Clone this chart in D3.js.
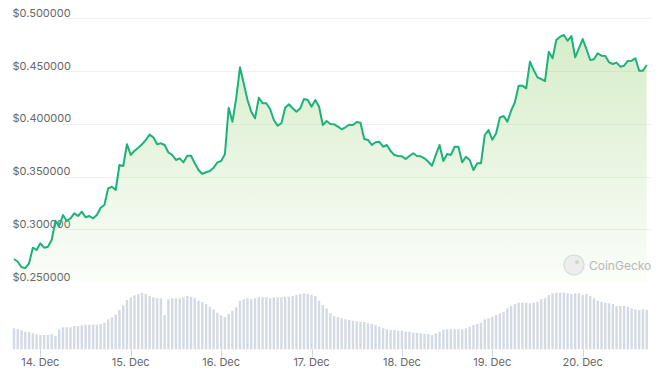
<!DOCTYPE html>
<html>
<head>
<meta charset="utf-8">
<script src="https://cdn.jsdelivr.net/npm/d3@7"></script>
<style>
  html, body { margin: 0; padding: 0; background: #fff; }
  svg { display: block; }
</style>
</head>
<body>
<svg id="chart" width="661" height="381"></svg>
<script>
// ---- data (hourly, starting 13 Dec 17:00) ----
const startTime = "2023-12-13T17:00:00";
const prices = [
  0.2720,0.2694,0.2641,0.2634,0.2679,0.2827,0.2805,0.2868,0.2827,0.2836,
  0.2900,0.3082,0.3032,0.3136,0.3079,0.3105,0.3152,0.3127,0.3168,0.3115,
  0.3127,0.3105,0.3136,0.3205,0.3231,0.3389,0.3404,0.3373,0.3610,0.3600,
  0.3806,0.3705,0.3745,0.3774,0.3806,0.3847,0.3897,0.3872,0.3806,0.3815,
  0.3799,0.3728,0.3705,0.3657,0.3673,0.3635,0.3698,0.3698,0.3626,0.3562,
  0.3525,0.3541,0.3553,0.3584,0.3635,0.3648,0.3711,0.4152,0.4020,0.4241,
  0.4535,0.4384,0.4225,0.4115,0.4052,0.4247,0.4194,0.4194,0.4140,0.4036,
  0.3982,0.4005,0.4152,0.4185,0.4147,0.4115,0.4147,0.4235,0.4225,0.4162,
  0.4225,0.4162,0.3989,0.4026,0.3998,0.3995,0.3973,0.3948,0.3967,0.3991,
  0.3989,0.4017,0.4010,0.3856,0.3847,0.3799,0.3825,0.3830,0.3783,0.3799,
  0.3742,0.3705,0.3695,0.3692,0.3667,0.3695,0.3721,0.3695,0.3692,0.3673,
  0.3641,0.3603,0.3705,0.3799,0.3648,0.3714,0.3705,0.3783,0.3783,0.3635,
  0.3688,0.3657,0.3562,0.3626,0.3626,0.3894,0.3941,0.3849,0.3908,0.4058,
  0.4074,0.4020,0.4124,0.4204,0.4361,0.4361,0.4336,0.4588,0.4509,0.4440,
  0.4424,0.4405,0.4683,0.4620,0.4794,0.4825,0.4841,0.4787,0.4831,0.4630,
  0.4715,0.4803,0.4708,0.4604,0.4611,0.4668,0.4645,0.4642,0.4582,0.4566,
  0.4579,0.4541,0.4550,0.4595,0.4598,0.4620,0.4503,0.4503,0.4557
];
const volumes = [ // relative hourly volume
  21.0,20.0,19.3,17.6,17.3,16.0,15.0,14.3,14.3,14.3,15.3,13.3,
  20.0,22.0,22.0,22.0,23.3,23.3,24.0,24.6,24.6,24.6,24.6,25.3,26.6,
  30.0,32.0,34.6,39.3,44.0,49.3,52.0,54.0,55.3,56.6,
  55.3,53.3,52.0,51.0,51.0,
  34.3,
  50.0,51.0,51.0,51.0,52.0,53.3,52.6,51.0,
  48.6,47.3,45.3,42.6,40.0,36.6,34.0,32.0,35.3,38.6,42.0,48.6,50.0,
  51.0,50.0,51.0,52.0,52.0,52.0,51.0,52.0,52.0,52.0,52.6,52.6,53.3,54.3,55.3,56.0,55.3,54.3,53.3,48.6,44.3,41.0,36.0,
  33.3,32.0,31.0,30.0,29.3,28.6,28.0,27.3,27.3,26.0,25.3,24.3,22.6,21.0,20.0,19.3,19.3,18.6,18.6,17.6,17.6,16.6,16.6,16.0,15.3,15.3,14.3,
  16.0,17.6,19.3,20.0,20.0,20.0,20.0,20.0,21.0,22.6,24.3,25.3,26.6,
  30.0,31.0,32.6,34.3,36.0,37.6,41.0,43.3,45.3,46.6,46.6,46.6,46.0,46.6,47.6,50.0,51.0,
  54.3,56.0,56.6,56.6,56.6,56.0,55.3,56.0,56.0,54.3,55.3,53.3,51.0,48.6,47.6,46.6,46.0,45.3,43.3,43.3,43.3,42.6,41.0,40.0,39.3,40.0,39.3
];
const yTicks = [0.25, 0.30, 0.35, 0.40, 0.45, 0.50];
const xTickDays = ["2023-12-14","2023-12-15","2023-12-16","2023-12-17","2023-12-18","2023-12-19","2023-12-20"];

// ---- build ----
const t0 = new Date(startTime).getTime();
const HOUR = 3600 * 1000;
const data = prices.map((p, i) => ({ t: new Date(t0 + i * HOUR), p, v: volumes[i] }));

const svg = d3.select("#chart");
const x = d3.scaleTime()
  .domain([data[0].t, data[data.length - 1].t])
  .range([14, 646.7]);
const y = d3.scaleLinear().domain([0.25, 0.5]).range([282.2, 18.2]);
const yv = d3.scaleLinear().domain([0, 69.3]).range([349.3, 280]);

const font = "Inter, 'Noto Sans', sans-serif";

// gradient
const defs = svg.append("defs");
const grad = defs.append("linearGradient").attr("id", "areaGrad")
  .attr("x1", 0).attr("y1", 0).attr("x2", 0).attr("y2", 1)
  .attr("gradientUnits", "userSpaceOnUse")
  .attr("x1", 0).attr("y1", y(0.5)).attr("x2", 0).attr("y2", y(0.25));
grad.append("stop").attr("offset", "0%").attr("stop-color", "#8fcd6a").attr("stop-opacity", 0.38);
grad.append("stop").attr("offset", "100%").attr("stop-color", "#8fcd6a").attr("stop-opacity", 0.04);

// gridlines
svg.append("g").selectAll("line").data(yTicks.slice(1)).join("line")
  .attr("x1", 63).attr("x2", 651)
  .attr("y1", d => Math.round(y(d)) + 0.5).attr("y2", d => Math.round(y(d)) + 0.5)
  .attr("stroke", "#f0f0f0").attr("stroke-width", 1);

// y labels
svg.append("g").selectAll("text").data(yTicks).join("text")
  .attr("x", 12.5).attr("y", d => y(d) - 1.5)
  .attr("font-family", font).attr("font-size", 11).attr("fill", "#666")
  .text(d => "$" + d.toFixed(6));

// volume bars
const bw = 2.4;
svg.append("g").selectAll("rect").data(data).join("rect")
  .attr("x", d => x(d.t) - bw / 2)
  .attr("y", d => yv(d.v))
  .attr("width", bw)
  .attr("height", d => yv(0) - yv(d.v))
  .attr("fill", "#d4dae3");

// area + line
const area = d3.area().x(d => x(d.t)).y0(y(0.25)).y1(d => y(d.p));
svg.append("path").datum(data).attr("d", area).attr("fill", "url(#areaGrad)");
const line = d3.line().x(d => x(d.t)).y(d => y(d.p));
svg.append("path").datum(data).attr("d", line)
  .attr("fill", "none").attr("stroke", "#1cb27a").attr("stroke-width", 2)
  .attr("stroke-linejoin", "round");

// x axis ticks and labels
const fmt = d3.timeFormat("%-d. %b");
const xt = xTickDays.map(s => new Date(s + "T00:00:00"));
svg.append("g").selectAll("line").data(xt).join("line")
  .attr("x1", d => Math.round(x(d)) + 0.5).attr("x2", d => Math.round(x(d)) + 0.5)
  .attr("y1", 349.5).attr("y2", 357)
  .attr("stroke", "#ccd6eb").attr("stroke-width", 1);
svg.append("g").selectAll("text").data(xt).join("text")
  .attr("x", d => x(d)).attr("y", 365.5)
  .attr("text-anchor", "middle")
  .attr("font-family", font).attr("font-size", 11).attr("fill", "#666")
  .text(d => fmt(d));

// watermark
const wm = svg.append("g").attr("opacity", 0.9);
wm.append("circle").attr("cx", 574).attr("cy", 265).attr("r", 10)
  .attr("fill", "#ececec").attr("stroke", "#d6d6d6").attr("stroke-width", 1.2);
wm.append("circle").attr("cx", 577).attr("cy", 262).attr("r", 2)
  .attr("fill", "#d0d0d0");
wm.append("text").attr("x", 589).attr("y", 269.5)
  .attr("font-family", font).attr("font-size", 12).attr("fill", "#b0b0b0")
  .text("CoinGecko");
</script>
</body>
</html>
